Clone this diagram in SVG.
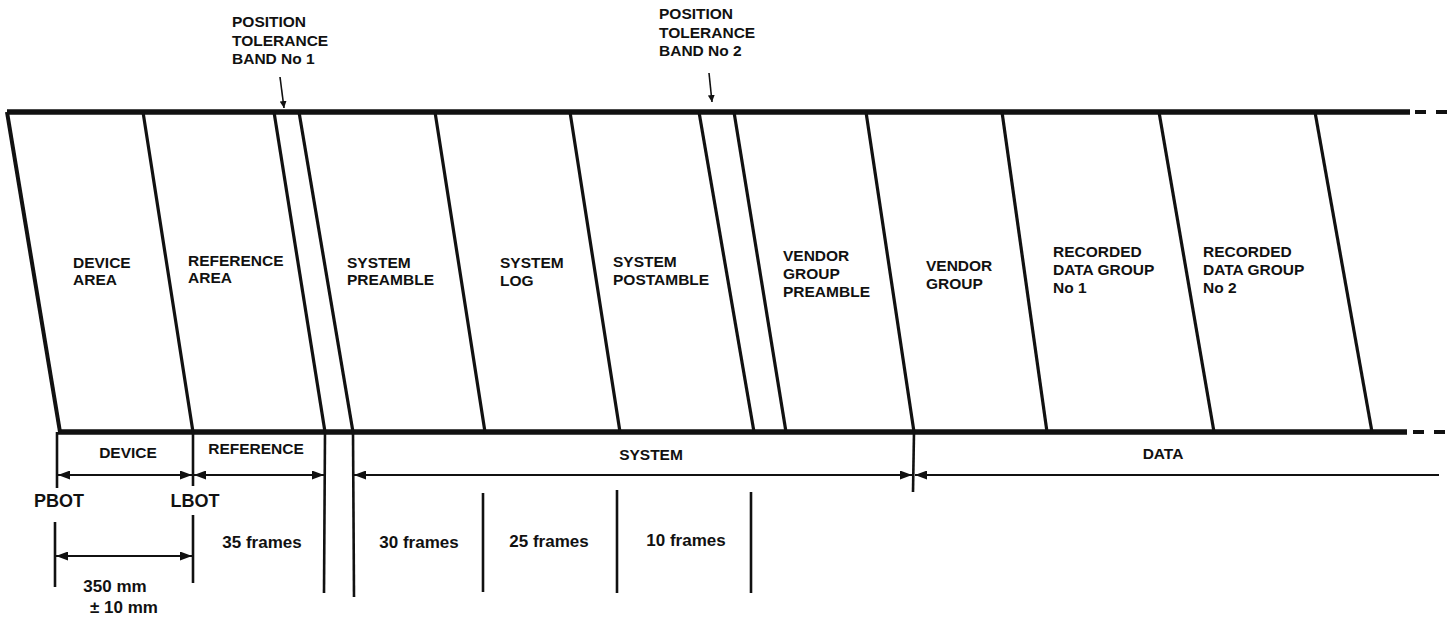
<svg xmlns="http://www.w3.org/2000/svg" width="1453" height="622" viewBox="0 0 1453 622">
<defs>
<marker id="ah" markerUnits="userSpaceOnUse" markerWidth="13" markerHeight="9" refX="12" refY="4.5" orient="auto-start-reverse"><path d="M0,0 L12,4.5 L0,9 z" fill="#111"/></marker>
<marker id="ahs" markerUnits="userSpaceOnUse" markerWidth="8" markerHeight="7" refX="7" refY="3.5" orient="auto"><path d="M0,0 L7,3.5 L0,7 z" fill="#111"/></marker>
<style>
text{font-family:"Liberation Sans",Arial,sans-serif;font-weight:bold;fill:#111}
.lbl{font-size:15.5px}
.big{font-size:17px}
.tape{stroke:#111;stroke-width:5.5;fill:none}
.sl{stroke:#111;stroke-width:3.2;fill:none}
.tick{stroke:#111;stroke-width:2.6;fill:none}
.dim{stroke:#111;stroke-width:2;fill:none}
.dash{stroke:#111;stroke-width:4;fill:none;stroke-dasharray:11 10}
.c{text-anchor:middle}
</style>
</defs>
<rect width="1453" height="622" fill="#fff"/>

<g id="tape">
<line class="tape" x1="7" y1="112" x2="1410" y2="112"/>
<line class="dash" x1="1415" y1="112" x2="1453" y2="112"/>
<line class="tape" x1="58" y1="432" x2="1407" y2="432"/>
<line class="dash" x1="1413" y1="432" x2="1453" y2="432"/>
<line class="sl" x1="7" y1="112" x2="60" y2="432" style="stroke-width:4"/>
<line class="sl" x1="143" y1="112" x2="193" y2="432"/>
<line class="sl" x1="274" y1="112" x2="325" y2="432"/>
<line class="sl" x1="299" y1="112" x2="353" y2="432"/>
<line class="sl" x1="435" y1="112" x2="485" y2="432"/>
<line class="sl" x1="570" y1="112" x2="620" y2="432"/>
<line class="sl" x1="699" y1="112" x2="754" y2="432"/>
<line class="sl" x1="734" y1="112" x2="786" y2="432"/>
<line class="sl" x1="866" y1="112" x2="914" y2="432"/>
<line class="sl" x1="1002" y1="112" x2="1047" y2="432"/>
<line class="sl" x1="1159" y1="112" x2="1214" y2="432"/>
<line class="sl" x1="1315" y1="112" x2="1372" y2="432"/>
</g>

<g id="band1">
<text class="lbl" x="232" y="27">POSITION</text>
<text class="lbl" x="232" y="46">TOLERANCE</text>
<text class="lbl" x="232" y="64">BAND No 1</text>
</g>
<g id="band2">
<text class="lbl" x="659" y="19">POSITION</text>
<text class="lbl" x="659" y="38">TOLERANCE</text>
<text class="lbl" x="659" y="56">BAND No 2</text>
</g>

<g id="device-area"><text class="lbl" x="73" y="268">DEVICE</text><text class="lbl" x="73" y="285">AREA</text></g>
<g id="reference-area"><text class="lbl" x="188" y="266">REFERENCE</text><text class="lbl" x="188" y="283">AREA</text></g>
<g id="system-preamble"><text class="lbl" x="347" y="268">SYSTEM</text><text class="lbl" x="347" y="285">PREAMBLE</text></g>
<g id="system-log"><text class="lbl" x="500" y="268">SYSTEM</text><text class="lbl" x="500" y="286">LOG</text></g>
<g id="system-postamble"><text class="lbl" x="613" y="267">SYSTEM</text><text class="lbl" x="613" y="285">POSTAMBLE</text></g>
<g id="vendor-group-preamble"><text class="lbl" x="783" y="261">VENDOR</text><text class="lbl" x="783" y="279">GROUP</text><text class="lbl" x="783" y="297">PREAMBLE</text></g>
<g id="vendor-group"><text class="lbl" x="926" y="271">VENDOR</text><text class="lbl" x="926" y="289">GROUP</text></g>
<g id="rdg1"><text class="lbl" x="1053" y="257">RECORDED</text><text class="lbl" x="1053" y="275">DATA GROUP</text><text class="lbl" x="1053" y="293">No 1</text></g>
<g id="rdg2"><text class="lbl" x="1203" y="257">RECORDED</text><text class="lbl" x="1203" y="275">DATA GROUP</text><text class="lbl" x="1203" y="293">No 2</text></g>

<g id="dim-labels">
<text class="lbl c" x="128" y="458">DEVICE</text>
<text class="lbl c" x="256" y="454">REFERENCE</text>
<text class="lbl c" x="651" y="460">SYSTEM</text>
<text class="lbl c" x="1163" y="459">DATA</text>
<text class="c" x="59" y="507" style="font-size:18px">PBOT</text>
<text class="c" x="195" y="507" style="font-size:18px">LBOT</text>
<text class="big c" x="262" y="548">35 frames</text>
<text class="big c" x="419" y="548">30 frames</text>
<text class="big c" x="549" y="547">25 frames</text>
<text class="big c" x="686" y="546">10 frames</text>
<text class="big c" x="115" y="592">350 mm</text>
<text class="big c" x="124" y="613">± 10 mm</text>
</g>

<g id="connectors">
<line class="dim" x1="280" y1="77" x2="284" y2="108" marker-end="url(#ahs)" style="stroke-width:1.6"/>
<line class="dim" x1="709" y1="73" x2="712" y2="102" marker-end="url(#ahs)" style="stroke-width:1.6"/>
<line class="tick" x1="57" y1="432" x2="57" y2="488"/>
<line class="tick" x1="193" y1="432" x2="193" y2="486"/>
<line class="tick" x1="325" y1="432" x2="324" y2="593"/>
<line class="tick" x1="353" y1="432" x2="354" y2="597"/>
<line class="tick" x1="914" y1="432" x2="913" y2="492"/>
<line class="tick" x1="55" y1="522" x2="55" y2="587"/>
<line class="tick" x1="193" y1="515" x2="193" y2="583"/>
<line class="tick" x1="483" y1="493" x2="483" y2="592"/>
<line class="tick" x1="617" y1="490" x2="617" y2="593"/>
<line class="tick" x1="751" y1="492" x2="751" y2="593"/>
<line class="dim" x1="58" y1="475" x2="192" y2="475" marker-start="url(#ah)" marker-end="url(#ah)"/>
<line class="dim" x1="194" y1="475" x2="324" y2="475" marker-start="url(#ah)" marker-end="url(#ah)"/>
<line class="dim" x1="354" y1="475" x2="912" y2="475" marker-start="url(#ah)" marker-end="url(#ah)"/>
<line class="dim" x1="915" y1="475" x2="1439" y2="475" marker-start="url(#ah)"/>
<line class="dim" x1="56" y1="556" x2="192" y2="556" marker-start="url(#ah)" marker-end="url(#ah)"/>
</g>
</svg>
